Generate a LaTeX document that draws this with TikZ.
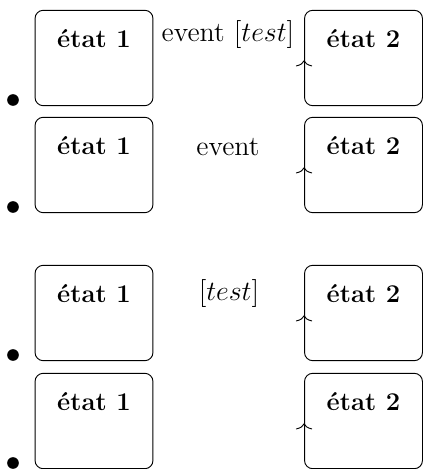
\documentclass[tikz,border=0pt]{standalone}
\usetikzlibrary{arrows.meta}

\tikzset{
  etat/.style={draw, rounded corners=3.5pt, minimum width=50.7pt,
               inner sep=0pt, text height=16pt, text depth=25pt,
               font=\fontsize{11}{13}\selectfont\bfseries},
  puce/.style={circle, fill, inner sep=0pt, minimum size=5pt},
  evt/.style={font=\large, anchor=base},
  trans/.style={-{To[width=7pt,length=2.6pt]}},
}

\begin{document}
\begin{tikzpicture}[x=0.43pt, y=-0.43pt]
\useasboundingbox (0,0) rectangle (423,469);

% one line per item: bullet, the two states, the transition tip
\foreach \r/\t in {1/10, 2/117, 3/265, 4/373} {
  \node (puce-\r) [puce] at (13,\t+90) {};
  \node (e1-\r) [etat] at (94,\t+48) {\'etat 1};
  \node (e2-\r) [etat] at (363.5,\t+48) {\'etat 2};
  \coordinate (fin-\r) at ([yshift=-1pt]e2-\r.west);
  \coordinate (dep-\r) at ([yshift=-6pt]e2-\r.west);
  \draw[trans] (dep-\r) -- (fin-\r);
}

% transition labels
\node (lab-1) [evt] at (228,42)  {event $[test]$};
\node (lab-2) [evt] at (228,156) {event};
\node (lab-3) [evt] at (229,300) {$[test]$};
\end{tikzpicture}
\end{document}
